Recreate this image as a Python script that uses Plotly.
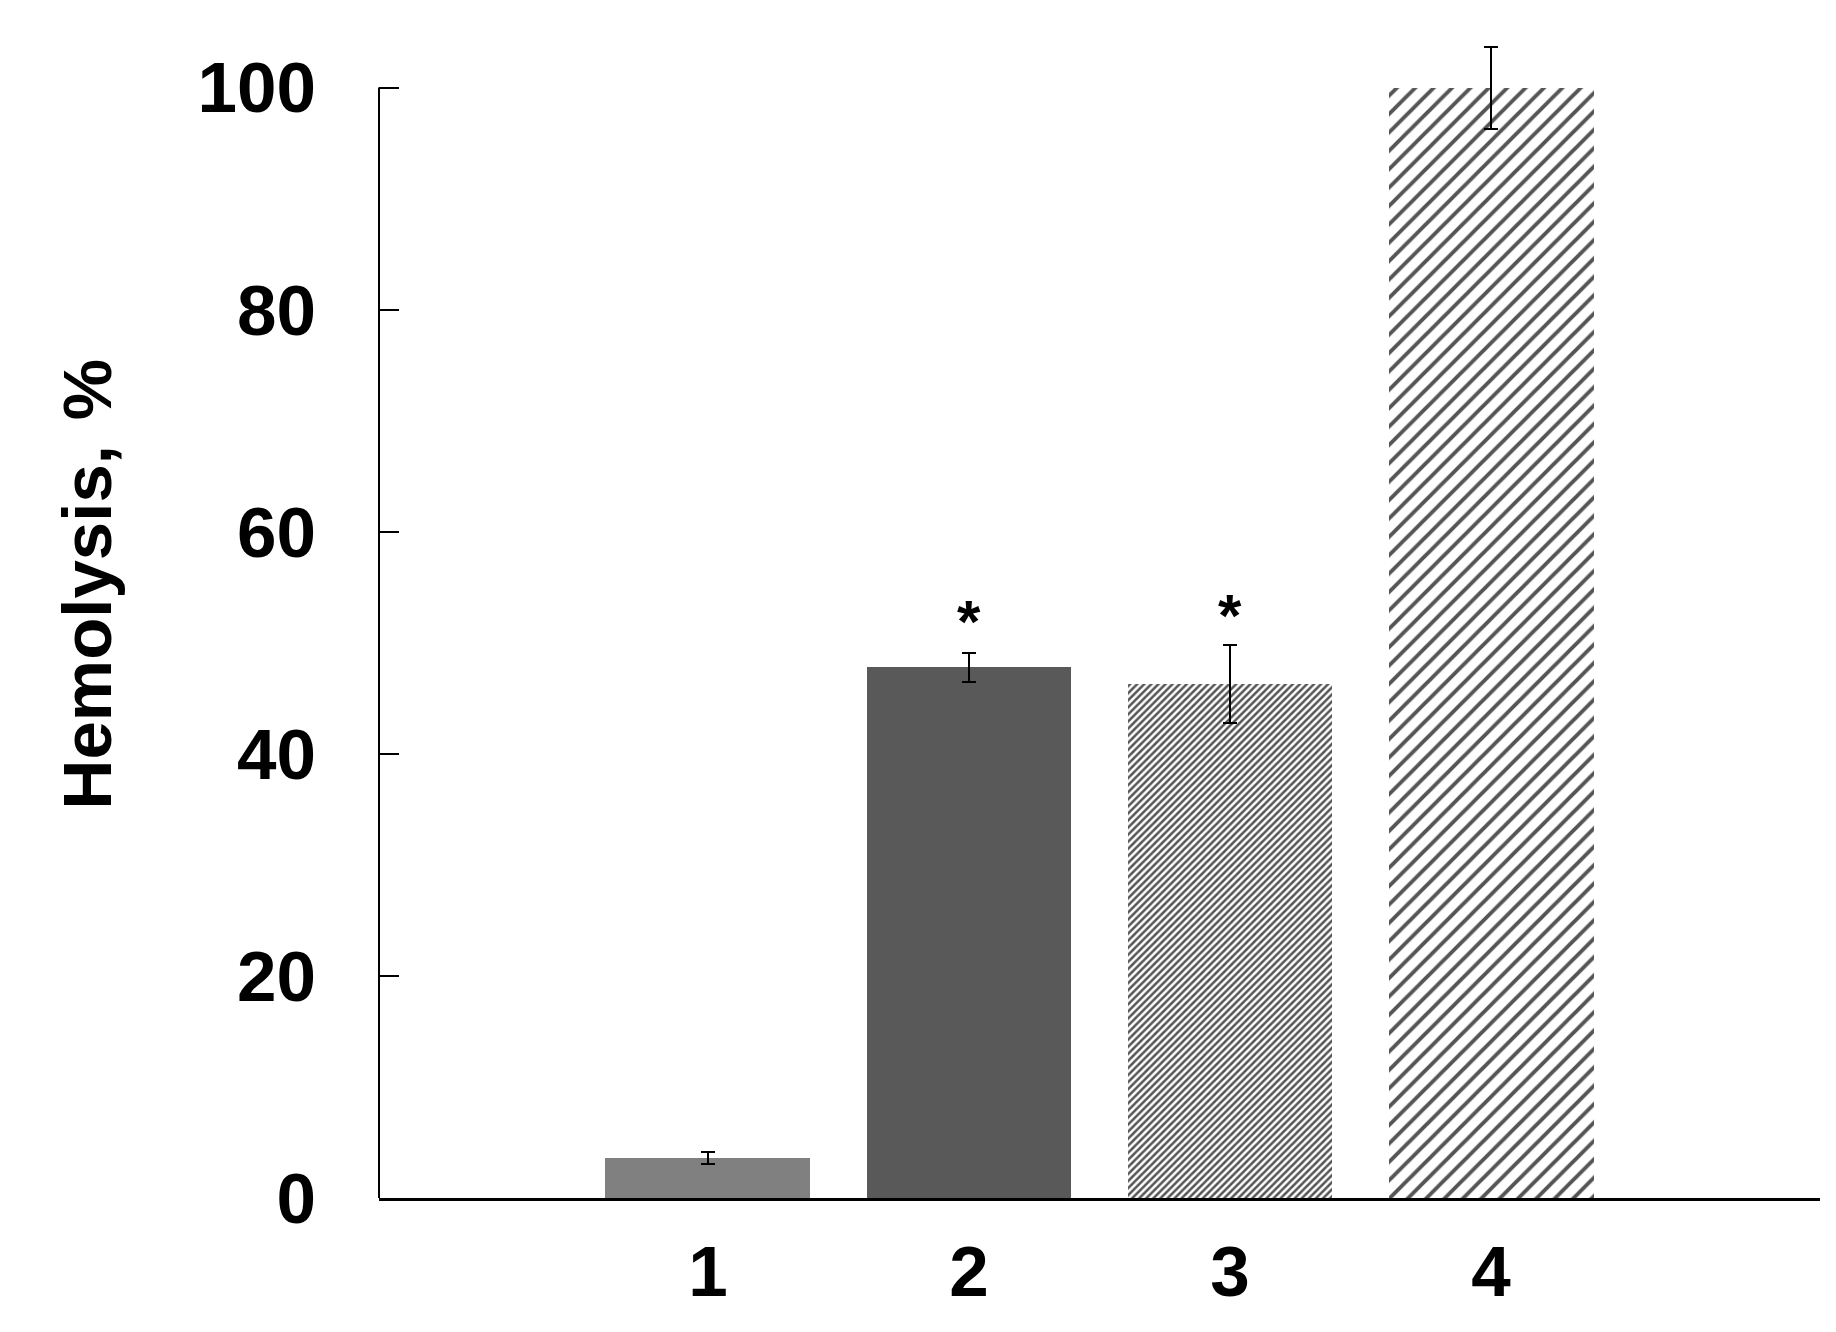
import plotly.graph_objects as go

categories = [1, 2, 3, 4]
tick_labels = ["1", "2", "3", "4"]
hemolysis = [3.6, 47.8, 46.3, 100.0]
errors = [0.5, 1.3, 3.5, 3.7]
star_groups = [2, 3]
star_values = [52.7, 53.3]
y_ticks = [0, 20, 40, 60, 80, 100]

FONT = "Liberation Sans, Arial, sans-serif"

# per-bar styling
fill_colors = ["#808080", "#595959", "#ffffff", "#ffffff"]
pattern_shapes = ["", "", "/", "/"]
pattern_sizes = [8, 8, 5, 13]
pattern_solidity = [0.3, 0.3, 0.5, 0.3]

fig = go.Figure()

for i in range(len(categories)):
    marker = dict(color=fill_colors[i], line=dict(width=0))
    if pattern_shapes[i]:
        marker["pattern"] = dict(shape=pattern_shapes[i], size=pattern_sizes[i],
                                 solidity=pattern_solidity[i], fgcolor="#555555",
                                 fgopacity=1, bgcolor="#ffffff", fillmode="overlay")
    fig.add_trace(go.Bar(
        x=[categories[i]], y=[hemolysis[i]], width=0.785,
        marker=marker,
        error_y=dict(type="data", array=[errors[i]], visible=True,
                     color="black", thickness=2, width=7),
        showlegend=False,
    ))

for g, v in zip(star_groups, star_values):
    fig.add_annotation(x=g, y=v, text="<b>*</b>", showarrow=False,
                       font=dict(family=FONT, size=60, color="black"),
                       xanchor="center", yanchor="middle", yshift=-9)

# y axis line only up to 100
fig.add_shape(type="line", xref="paper", yref="y", x0=0, x1=0,
              y0=0, y1=y_ticks[-1], line=dict(color="black", width=2))

fig.add_annotation(xref="paper", yref="paper", x=-0.202, y=0.5,
                   xanchor="center", yanchor="middle", textangle=-90,
                   text="<b>Hemolysis, \u200a%</b>", showarrow=False,
                   font=dict(family=FONT, size=69, color="black"),
                   yshift=26)

fig.update_layout(
    width=1836, height=1332,
    margin=dict(l=371, r=24, t=13, b=142),
    paper_bgcolor="white", plot_bgcolor="white",
    font=dict(family=FONT, color="black"),
    bargap=0,
    xaxis=dict(
        range=[-0.26, 5.26],
        tickvals=categories, ticktext=["<b>%s</b>" % t for t in tick_labels],
        tickfont=dict(family=FONT, size=71, color="black"),
        showline=True, linecolor="black", linewidth=3,
        ticks="", showgrid=False, zeroline=False,
        ticklabelstandoff=10,
    ),
    yaxis=dict(
        range=[0, 106],
        tickvals=y_ticks, ticktext=["<b>%d</b>" % t for t in y_ticks],
        tickfont=dict(family=FONT, size=71, color="black"),
        ticks="inside", ticklen=20, tickwidth=2, tickcolor="black",
        showline=False, showgrid=False, zeroline=False,
        ticklabelstandoff=62,
    ),
)

fig.write_html("out.html")
